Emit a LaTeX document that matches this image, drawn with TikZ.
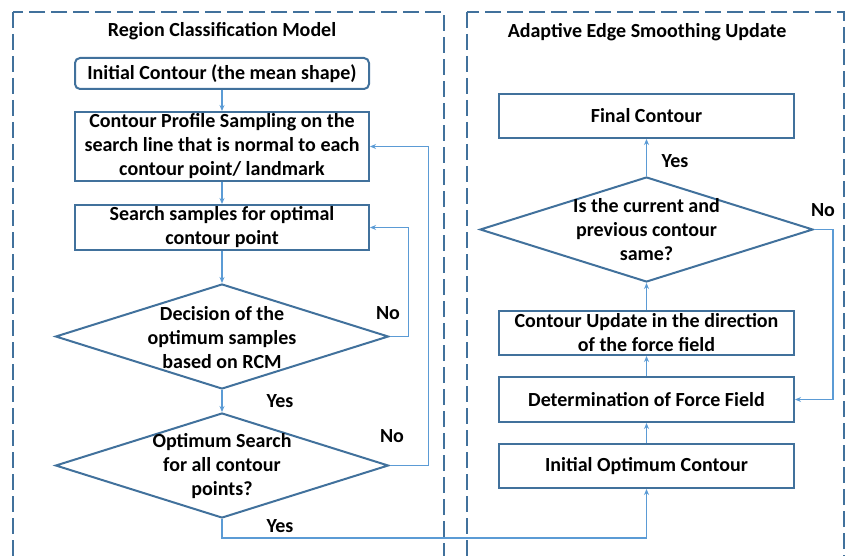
\documentclass[tikz,border=0pt]{standalone}
\usepackage{fontspec}
\setmainfont{Carlito}
\usetikzlibrary{shapes.geometric,arrows.meta}
\definecolor{boxc}{HTML}{41719C}
\definecolor{linec}{HTML}{5B9BD5}
\begin{document}
\begin{tikzpicture}[x=1pt,y=-1pt,
  every node/.style={font=\fontsize{20}{24}\selectfont\bfseries},
  procbox/.style={draw=boxc,line width=2pt,minimum width=294pt,inner sep=0pt,align=center},
  decbox/.style={draw=boxc,line width=2pt,diamond,minimum width=333pt,minimum height=105pt,inner sep=0pt},
  frame/.style={draw=boxc,line width=1.8pt,dash pattern=on 16pt off 6pt},
  conn/.style={draw=linec,line width=1.8pt,-{Stealth[length=6pt,width=5pt]}},
  lbl/.style={inner sep=0pt}]
\useasboundingbox (0,0) rectangle (845,556);
\clip (0,0) rectangle (845,556);
\draw[frame] (13,12) rectangle (444,620);
\draw[frame] (467,12) rectangle (844,620);
\node[lbl] (t1) at (222,31) {Region Classification Model};
\node[lbl] (t2) at (647,32) {Adaptive Edge Smoothing Update};
% left column
\node[procbox,rounded corners=5pt,minimum height=31pt] (init) at (222,73.5) {Initial Contour (the mean shape)};
\node[procbox,minimum height=69pt] (prof) at (222,146.5) {Contour Profile Sampling on the\\search line that is normal to each\\contour point/ landmark};
\node[procbox,minimum height=45pt] (srch) at (222,227.5) {Search samples for optimal\\contour point};
\node[decbox] (d1) at (222,336.5) {};
\node[lbl,align=center] (d1t) at (222,338) {Decision of the\\optimum samples\\based on RCM};
\node[decbox] (d2) at (222,465.5) {};
\node[lbl,align=center] (d2t) at (222,466.5) {Optimum Search\\for all contour\\points?};
% right column
\node[procbox,minimum width=295pt,minimum height=44pt] (fin) at (646.5,116) {Final Contour};
\node[decbox] (d3) at (646.5,229.5) {};
\node[lbl,align=center] (d3t) at (646.5,229.5) {Is the current and\\previous contour\\same?};
\node[procbox,minimum width=295pt,minimum height=44pt] (upd) at (646.5,333) {Contour Update in the direction\\of the force field};
\node[procbox,minimum width=295pt,minimum height=45pt] (det) at (646.5,399.5) {Determination of Force Field};
\node[procbox,minimum width=295pt,minimum height=44pt] (iopt) at (646.5,466) {Initial Optimum Contour};
% connectors
\draw[conn] (init) -- (prof);
\draw[conn] (prof) -- (srch);
\draw[conn] (srch) -- (d1);
\draw[conn] (d1) -- (d2);
\draw[conn] (d1.east) -- ++(19,0) |- (srch.east);
\draw[conn] (d2.east) -- ++(39,0) |- (prof.east);
\draw[conn] (d2.south) -- ++(0,19) -| (iopt.south);
\draw[conn] (iopt) -- (det);
\draw[conn] (det) -- (upd);
\draw[conn] (upd) -- (d3);
\draw[conn] (d3) -- (fin);
\draw[conn] (d3.east) -- ++(19,0) |- (det.east);
% labels
\node[lbl] (no1) at (388,313) {No};
\node[lbl] (no2) at (392,436) {No};
\node[lbl] (yes1) at (280,401) {Yes};
\node[lbl] (yes2) at (280,526) {Yes};
\node[lbl] (yes3) at (675,161) {Yes};
\node[lbl] (no3) at (823,210) {No};
\end{tikzpicture}
\end{document}
